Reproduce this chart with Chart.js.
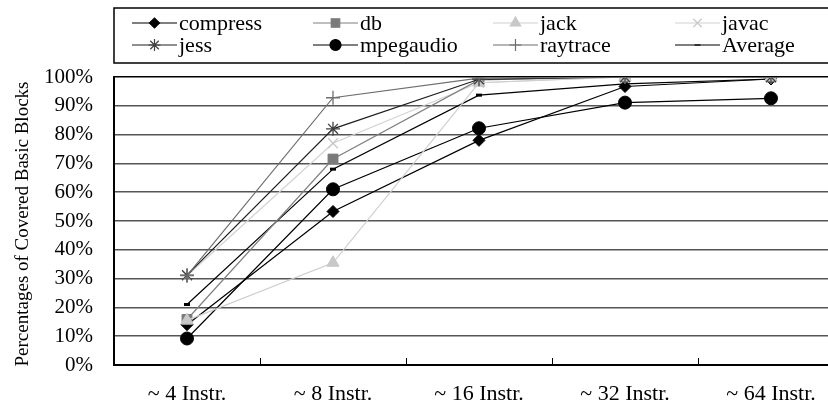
<!DOCTYPE html>
<html>
<head>
<meta charset="utf-8">
<script src="https://cdn.jsdelivr.net/npm/chart.js@4"></script>
<style>
  html, body { margin: 0; padding: 0; background: #fff; }
  #wrap { width: 828px; height: 414px; overflow: hidden; }
</style>
</head>
<body>
<div id="wrap"><canvas id="chart" width="860" height="414"></canvas></div>
<script>
const labels = ['~ 4 Instr.', '~ 8 Instr.', '~ 16 Instr.', '~ 32 Instr.', '~ 64 Instr.'];
const yTicks = [0, 10, 20, 30, 40, 50, 60, 70, 80, 90, 100];
const yTitle = 'Percentages of Covered Basic Blocks';

const compress  = [14, 53.3, 78, 96.7, 99.3];
const db        = [15.8, 71.5, 99, 100, 100];
const jack      = [15.5, 35.5, 98, 100, 100];
const javac     = [31, 77, 98, 100, 100];
const jess      = [31.2, 82, 99.2, 100, 100];
const mpegaudio = [9.2, 61, 82.2, 91.1, 92.6];
const raytrace  = [31, 92.8, 99.6, 100, 100];
const average   = [21, 68, 93.7, 97.6, 99.3];

Chart.defaults.font.family = '"Liberation Serif", "Times New Roman", serif';
Chart.defaults.font.size = 21;
Chart.defaults.color = '#000';

function series(label, data, line, mark, style, radius, order) {
  return {
    label: label,
    data: data,
    borderColor: line,
    borderWidth: 1.2,
    pointStyle: style,
    pointRadius: radius,
    pointHoverRadius: radius,
    pointBackgroundColor: mark,
    pointBorderColor: mark,
    pointBorderWidth: style == 'line' ? 3 : (style == 'star' || style == 'cross' || style == 'crossRot' ? 1.3 : 1),
    tension: 0,
    fill: false,
    order: order
  };
}

const datasets = [
  series('compress', compress, '#000', '#000', 'rectRot', 6, 6),
  series('db', db, '#808080', '#7a7a7a', 'rect', 7, 4),
  series('jack', jack, '#cfcfcf', '#c8c8c8', 'triangle', 7, 3),
  series('javac', javac, '#d2d2d2', '#c8c8c8', 'crossRot', 7, 5),
  series('jess', jess, '#202020', '#404040', 'star', 7, 2),
  series('mpegaudio', mpegaudio, '#000', '#000', 'circle', 6.5, 7),
  series('raytrace', raytrace, '#6e6e6e', '#6e6e6e', 'cross', 7, 1),
  series('Average', average, '#000', '#000', 'line', 3, 8)
];

// legend box above the plot (4 x 2 grid) and the rotated y title
const legendBox = {
  id: 'legendBox',
  afterDraw(chart) {
    const ctx = chart.ctx;
    const area = chart.chartArea;
    ctx.save();
    ctx.strokeStyle = '#000';
    ctx.lineWidth = 1.5;
    ctx.strokeRect(area.left, 8, chart.width, 55);
    const cols = [132, 313, 493, 675];
    const rows = [23, 45];
    chart.data.datasets.forEach((ds, i) => {
      const x = cols[i % 4];
      const y = rows[Math.floor(i / 4)];
      ctx.strokeStyle = ds.borderColor;
      ctx.lineWidth = 1.2;
      ctx.beginPath();
      ctx.moveTo(x, y);
      ctx.lineTo(x + 45, y);
      ctx.stroke();
      ctx.fillStyle = ds.pointBackgroundColor;
      ctx.strokeStyle = ds.pointBorderColor;
      Chart.helpers.drawPoint(ctx, {
        pointStyle: ds.pointStyle,
        radius: ds.pointStyle == 'line' ? 3 : ds.pointRadius - 1,
        rotation: 0,
        borderWidth: ds.pointBorderWidth
      }, x + 22.5, y);
      ctx.fillStyle = '#000';
      ctx.textBaseline = 'middle';
      ctx.textAlign = 'left';
      ctx.font = '22px "Liberation Serif", serif';
      ctx.fillText(ds.label, x + 47, y + 1);
    });

    ctx.translate(23, (area.top + area.bottom) / 2 + 3);
    ctx.rotate(-Math.PI / 2);
    ctx.textAlign = 'center';
    ctx.textBaseline = 'middle';
    ctx.font = '19px "Liberation Serif", serif';
    ctx.fillText(yTitle, 0, 0);
    ctx.restore();
  }
};

// small ticks pointing up from the x axis between categories
const innerTicks = {
  id: 'innerTicks',
  afterDatasetsDraw(chart) {
    const ctx = chart.ctx;
    const xs = chart.scales.x;
    const bottom = chart.chartArea.bottom;
    ctx.save();
    ctx.strokeStyle = '#000';
    ctx.lineWidth = 1;
    for (let i = 1; i < labels.length; i++) {
      const x = Math.round((xs.getPixelForValue(i - 1) + xs.getPixelForValue(i)) / 2) + 0.5;
      ctx.beginPath();
      ctx.moveTo(x, bottom);
      ctx.lineTo(x, bottom - 7);
      ctx.stroke();
    }
    ctx.restore();
  }
};

new Chart(document.getElementById('chart'), {
  type: 'line',
  data: { labels: labels, datasets: datasets },
  options: {
    responsive: false,
    animation: false,
    layout: { padding: { top: 77, right: 16, bottom: 0, left: 0 } },
    plugins: { legend: { display: false }, tooltip: { enabled: false } },
    scales: {
      x: {
        offset: true,
        afterFit(scale) { scale.height = 49; },
        grid: { display: false, drawTicks: false },
        border: { color: '#000', width: 2 },
        ticks: { padding: 16, maxRotation: 0, font: { size: 22, lineHeight: 1.2 } }
      },
      y: {
        min: 0,
        max: 100,
        afterFit(scale) { scale.width = 114; },
        afterBuildTicks(scale) { scale.ticks = yTicks.map(v => ({ value: v })); },
        grid: {
          drawTicks: false,
          color: c => c.tick && c.tick.value === 100 ? '#000' : '#555',
          lineWidth: 1.6
        },
        border: { color: '#000', width: 2 },
        ticks: { padding: 21, callback: v => v + '%', font: { size: 21 } }
      }
    }
  },
  plugins: [legendBox, innerTicks]
});
</script>
</body>
</html>
